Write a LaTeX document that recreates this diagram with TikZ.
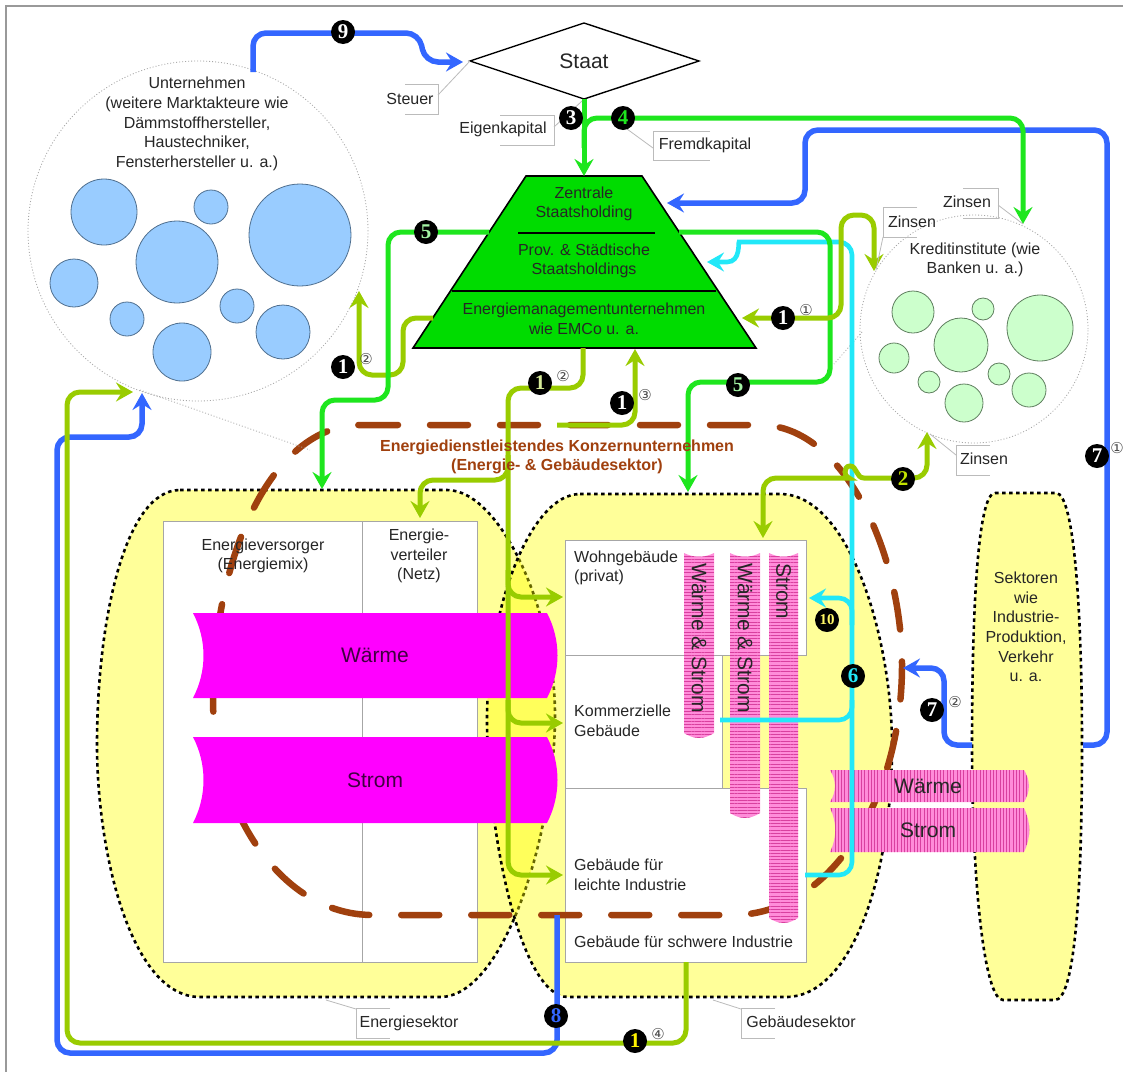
\documentclass[tikz,border=0pt]{standalone}
\usepackage{fontspec}
\setmainfont{Liberation Sans}
\newfontfamily\badgeserif{Liberation Serif}
\newfontfamily\circfont{DejaVu Sans}
\usetikzlibrary{arrows.meta,patterns.meta}

\definecolor{lnblue}{HTML}{3366FF}
\definecolor{lngreen}{HTML}{1EE61E}
\definecolor{lnlime}{HTML}{99CC00}
\definecolor{lncyan}{HTML}{22E8F8}
\definecolor{pyrgreen}{HTML}{00DC00}
\definecolor{konzern}{HTML}{A0400E}
\definecolor{secyellow}{HTML}{FFFF00}
\definecolor{firmfill}{HTML}{99CCFF}
\definecolor{firmline}{HTML}{4F6F8F}
\definecolor{bankfill}{HTML}{CCFFCC}
\definecolor{bankline}{HTML}{5F7F5F}
\definecolor{colpink}{HTML}{FF8CD9}
\definecolor{colstripe}{HTML}{D9409F}
\definecolor{energymag}{HTML}{FF00FF}
\definecolor{callgray}{HTML}{BBBBBB}
\definecolor{magtext}{HTML}{400040}

\begin{document}
\begin{tikzpicture}[x=1pt,y=-1pt,
  txt/.style={font=\fontsize{16}{19.6}\selectfont, inner sep=0pt, align=center, text=black!85},
  big/.style={font=\fontsize{21}{24}\selectfont, inner sep=0pt, text=black!85},
  flow/.style={line width=5pt, rounded corners=13pt},
  bl/.style={flow, draw=lnblue, line width=5.5pt},
  gr/.style={flow, draw=lngreen},
  lm/.style={flow, draw=lnlime},
  cy/.style={flow, draw=lncyan, line width=4.6pt},
  tip/.style={-{Stealth[length=17pt,width=19pt,inset=6pt]}},
  bothtips/.style={{Stealth[length=17pt,width=19pt,inset=6pt]}-{Stealth[length=17pt,width=19pt,inset=6pt]}},
  badge/.style={circle, fill=black, minimum size=24pt, inner sep=0pt, font=\badgeserif\bfseries\fontsize{21}{21}\selectfont},
  circnum/.style={font=\circfont\fontsize{15}{15}\selectfont, text=black!70, inner sep=0pt},
  callout/.style={draw=callgray, line width=0.8pt},
  sector/.style={fill=secyellow, fill opacity=0.4, draw=black, line width=2.6pt, dash pattern=on 3.5pt off 3.5pt},
  cloud/.style={draw=gray!70, line width=0.8pt, dash pattern=on 1pt off 2pt},
  firm/.style={fill=firmfill, draw=firmline, line width=0.8pt},
  bank/.style={fill=bankfill, draw=bankline, line width=0.8pt},
  boxw/.style={fill=white, draw=gray!70, line width=0.9pt},
  vcol/.style={preaction={fill=colpink}, pattern={Lines[angle=0,distance=3.3pt,line width=0.8pt]}, pattern color=colstripe},
  hbar/.style={preaction={fill=colpink}, pattern={Lines[angle=90,distance=3.3pt,line width=0.8pt]}, pattern color=colstripe},
]
\useasboundingbox (0,0) rectangle (1123,1071);
\clip (0,0) rectangle (1123,1071);

% page and frame
\fill[white] (0,0) rectangle (1123,1071);
\draw[gray!80, line width=1.3pt] (6,6) rectangle (1140,1090);

% ---------------- sectors ----------------
% Energiesektor
\path[sector] (180,490) -- (447,490) .. controls (500,490) and (555,610) .. (555,715)
  .. controls (555,830) and (505,997) .. (440,997) -- (200,997)
  .. controls (130,997) and (97,850) .. (97,745) .. controls (97,620) and (125,490) .. (180,490) -- cycle;
% Gebäudesektor
\path[sector] (580,494) -- (780,494) .. controls (850,494) and (892,640) .. (892,745)
  .. controls (892,880) and (850,997) .. (786,997) -- (568,997)
  .. controls (520,997) and (487,830) .. (487,720) .. controls (487,610) and (530,494) .. (580,494) -- cycle;
% other sectors
\path[sector] (995,493) -- (1056,493) .. controls (1075,493) and (1082,620) .. (1082,745)
  .. controls (1082,900) and (1074,1000) .. (1055,1000) -- (1003,1000)
  .. controls (984,1000) and (972,880) .. (972,745) .. controls (972,620) and (977,493) .. (995,493) -- cycle;

% ---------------- white boxes ----------------
\draw[boxw] (163,521) rectangle (477,962);
\draw[gray!70, line width=0.9pt] (362,521) -- (362,962);
\draw[boxw] (565,540) rectangle (806,655);
\draw[boxw] (565,655) rectangle (722,788);
\draw[boxw] (565,788) rectangle (806,962);

% ---------------- group boundary ----------------
\draw[konzern, line width=6.5pt, dash pattern=on 38pt off 32pt, line cap=round]
  (360,425) -- (760,425) .. controls (845,425) and (902,555) .. (902,665)
  .. controls (902,800) and (830,915) .. (733,915) -- (373,915)
  .. controls (275,915) and (213,800) .. (213,700) .. controls (213,560) and (270,425) .. (360,425) -- cycle;

% ---------------- energy bars ----------------
\fill[energymag] (193,613) -- (547,613) .. controls (561,640) and (561,671) .. (547,698) -- (193,698) .. controls (207,671) and (207,640) .. (193,613) -- cycle;
\fill[energymag] (193,737) -- (547,737) .. controls (561,764) and (561,796) .. (547,823) -- (193,823) .. controls (207,796) and (207,764) .. (193,737) -- cycle;
\node[big, text=magtext] (waermeL) at (375,655) {Wärme};
\node[big, text=magtext] (stromL) at (375,780) {Strom};

% vertical supply columns
\path[vcol] (684,553) .. controls (694,558) and (704,558) .. (714,553) -- (714,733) .. controls (704,739.5) and (694,739.5) .. (684,733) -- cycle;
\path[vcol] (730,553) .. controls (740,558) and (750,558) .. (760,553) -- (760,813) .. controls (750,819.5) and (740,819.5) .. (730,813) -- cycle;
\path[vcol] (769,553) .. controls (779,558) and (788,558) .. (798,553) -- (798,918) .. controls (788,924.5) and (779,924.5) .. (769,918) -- cycle;
\node[big, rotate=-90, anchor=west] (col1) at (699,563) {Wärme \& Strom};
\node[big, rotate=-90, anchor=west] (col2) at (745,563) {Wärme \& Strom};
\node[big, rotate=-90, anchor=west] (col3) at (783.5,563) {Strom};

% horizontal bars towards the other sectors
\path[hbar] (830,770) -- (1024,770) .. controls (1030.5,780) and (1030.5,792) .. (1024,802) -- (830,802) .. controls (836.5,792) and (836.5,780) .. (830,770) -- cycle;
\path[hbar] (830,808) -- (1024,808) .. controls (1031,822) and (1031,838) .. (1024,852) -- (830,852) .. controls (837,838) and (837,822) .. (830,808) -- cycle;
\node[big] (waermeR) at (928,786) {Wärme};
\node[big] (stromR) at (928,830) {Strom};

% ---------------- market actors ----------------
\draw[cloud] (198,231) circle[radius=170pt];
\draw[cloud] (140,390) -- (310,450);
\foreach \cx/\cy/\r in {104/212/33, 211/207/17, 300/235/51, 177/262/41, 74/283/24, 127/319/17, 237/306/17, 283/332/27, 182/352/29}
  \draw[firm] (\cx,\cy) circle[radius=\r pt];
\node[txt] (firms) at (197,124) {Unternehmen\\(weitere Marktakteure wie\\Dämmstoffhersteller,\\Haustechniker,\\Fensterhersteller u. a.)};

\draw[cloud] (974,329) circle[radius=114pt];
\draw[cloud] (862,332) -- (834,364);
\foreach \cx/\cy/\r in {913/312/21, 983/309/11, 1040/328/33, 961/345/27, 894/358/15, 929/382/11, 999/374/11, 1029/390/17, 964/403/19}
  \draw[bank] (\cx,\cy) circle[radius=\r pt];
\node[txt] (banks) at (975,260) {Kreditinstitute (wie\\Banken u. a.)};

% ---------------- state and holdings ----------------
\draw[fill=white, line width=1.4pt] (470,61) -- (584,23) -- (699,61) -- (584,99) -- cycle;
\node[big] (staat) at (584,61) {Staat};
\coordinate (staatW) at (470,61);
\coordinate (staatS) at (584,99);

\draw[fill=pyrgreen, line width=1.6pt, line join=miter] (526,176) -- (642,176) -- (756,348) -- (413,348) -- cycle;
\draw[line width=1.6pt] (518,233) -- (655,233);
\draw[line width=1.6pt] (452,291) -- (716,291);
\node[txt] (pyrA) at (584,204) {Zentrale\\Staatsholding};
\node[txt] (pyrB) at (584,261) {Prov. \& Städtische\\Staatsholdings};
\node[txt] (pyrC) at (584,319) {Energiemanagementunternehmen\\wie EMCo u. a.};
\coordinate (pyrTop) at (584,176);

% ---------------- flows ----------------
% 9: tax
\coordinate (firmsTop) at (253,72);
\draw[bl,tip] (firmsTop) -- (253,33) -- (419,33) -- (425,62) -- (463,62);
% 7(1): other sectors to the holding
\coordinate (sekR) at (1083,745);
\draw[bl,tip] (sekR) -- (1107,745) -- (1107,130) -- (805,130) -- (805,203) -- (667,203);
% 7(2)
\coordinate (sekL) at (972,745);
\draw[bl,tip] (sekL) -- (944,745) -- (944,668) -- (903,668);
% 8
\coordinate (konzBot) at (557,915);
\draw[bl,tip] (konzBot) -- (557,1053) -- (57,1053) -- (57,437) -- (142,437) -- (142,393);

% 3 equity
\draw[gr,tip] (staatS) -- (pyrTop);
% 4 debt
\draw[gr,tip] (584,148) -- (584,118) -- (1023,118) -- (1023,224);

% 1(4)
\coordinate (heavyBot) at (686,962);
\draw[lm,tip] (heavyBot) -- (686,1043) -- (67,1043) -- (67,392) -- (133,392);
% 1(2) to the firms
\draw[lm,tip] (433,318) -- (403,318) -- (403,375) -- (359,375) -- (359,291);
% 5 left
\draw[gr,tip] (489,232) -- (388,232) -- (388,400) -- (322,400) -- (322,489);
% 1(2) to buildings
\draw[lm,tip] (583,348) -- (583,388) -- (508,388) -- (508,875) -- (563,875);
\draw[lm,tip] (508,455) -- (508,480) -- (420,480) -- (420,518);
\draw[lm,tip] (508,570) -- (508,597) -- (563,597);
\draw[lm,tip] (508,700) -- (508,723) -- (563,723);
% 1(3)
\draw[lm,tip] (557,425) -- (635,425) -- (635,349);

% 6 / 10 cyan
\draw[cy,tip] (805,875) -- (852,875) -- (852,242) -- (752,242) [sharp corners] .. controls (738,242) and (741,262) .. (727,262) -- (707,262);
\draw[cy] (852,700) -- (852,720) -- (720,720);
\draw[cy,tip] (852,625) -- (852,598) -- (809,598);

% 5 right
\draw[gr,tip] (679,232) -- (830,232) -- (830,382) -- (688,382) -- (688,492);
% 1(1)
\draw[lm,bothtips] (742,318) -- (841,318) -- (841,215) -- (874,215) -- (874,271);
% 2
\draw[lm,bothtips] (763,538) -- (763,478) -- (836,478) [sharp corners] .. controls (844,478) and (843,466) .. (850,466) .. controls (857,466) and (856,478) .. (864,478) [rounded corners=13pt] -- (927,478) -- (927,432);

% ---------------- group label ----------------
\node[txt, font=\bfseries\fontsize{16}{19.6}\selectfont, text=konzern] (konz) at (557,457) {Energiedienstleistendes Konzernunternehmen\\(Energie- \& Gebäudesektor)};

% ---------------- box texts ----------------
\node[txt] (versorger) at (263,556) {Energieversorger\\(Energiemix)};
\node[txt] (verteiler) at (419,556) {Energie-\\verteiler\\(Netz)};
\node[txt, anchor=west, align=left] (wohn) at (574,568) {Wohngebäude\\(privat)};
\node[txt, anchor=west, align=left] (komm) at (574,721) {Kommerzielle\\Gebäude};
\node[txt, anchor=west, align=left] (leicht) at (574,875) {Gebäude für\\leichte Industrie};
\node[txt, anchor=west, align=left] (schwer) at (574,942) {Gebäude für schwere Industrie};
\node[txt] (sektoren) at (1026,627) {Sektoren\\wie\\Industrie-\\Produktion,\\Verkehr\\u. a.};

% ---------------- callout labels ----------------
\draw[callout] (405,84) -- (438,84) -- (438,114) -- (405,114);
\draw[callout] (438,95) -- (staatW);
\node[txt] (steuer) at (410,99) {Steuer};
\draw[callout] (500,115) -- (554,115) -- (554,145) -- (500,145);
\draw[callout] (554,127) -- (582,101);
\node[txt] (eigen) at (503,129) {Eigenkapital};
\draw[callout] (710,131) -- (653,131) -- (653,160) -- (710,160);
\draw[callout] (653,148) -- (627,129);
\node[txt] (fremd) at (705,145) {Fremdkapital};
\draw[callout] (963,188) -- (998,188) -- (998,218) -- (963,218);
\draw[callout] (998,205) -- (1023,224);
\node[txt] (zinsA) at (967,202) {Zinsen};
\draw[callout] (917,207) -- (883,207) -- (883,237) -- (917,237);
\draw[callout] (883,237) -- (876,270);
\node[txt] (zinsB) at (912,222) {Zinsen};
\draw[callout] (990,445) -- (956,445) -- (956,475) -- (990,475);
\draw[callout] (956,455) -- (930,434);
\node[txt] (zinsC) at (984,459) {Zinsen};
\draw[callout] (390,1008) -- (356,1008) -- (356,1038) -- (390,1038);
\draw[callout] (356,1009) -- (326,1000);
\node[txt] (esek) at (409,1023) {Energiesektor};
\draw[callout] (775,1008) -- (741,1008) -- (741,1038) -- (775,1038);
\draw[callout] (741,1009) -- (713,1000);
\node[txt] (gsek) at (801,1022) {Gebäudesektor};

% ---------------- badges ----------------
\node[badge, text=white] (n9) at (343,32) {9};
\node[badge, text=white] (n3) at (571,118) {3};
\node[badge, text=lngreen] (n4) at (623,118) {4};
\node[badge, text=lngreen!40!white] (n5a) at (426,232) {5};
\node[badge, text=lngreen!40!white] (n5b) at (738,385) {5};
\node[badge, text=white] (n1a) at (783,318) {1};
\node[circnum] (c1a) at (806,310) {①};
\node[badge, text=white] (n1b) at (343,367) {1};
\node[circnum] (c1b) at (366,359) {②};
\node[badge, text=lnlime!40!white] (n1c) at (540,383) {1};
\node[circnum] (c1c) at (563,376) {②};
\node[badge, text=white] (n1d) at (622,403) {1};
\node[circnum] (c1d) at (645,395) {③};
\node[badge, text=lnlime!60!yellow] (n2) at (903,479) {2};
\node[badge, text=lncyan] (n6) at (853,676) {6};
\node[badge, text=yellow!60!white, font=\badgeserif\bfseries\fontsize{15}{15}\selectfont] (n10) at (827,620) {10};
\node[badge, text=white] (n7a) at (1097,456) {7};
\node[circnum] (c7a) at (1117,448) {①};
\node[badge, text=white] (n7b) at (932,710) {7};
\node[circnum] (c7b) at (955,702) {②};
\node[badge, text=lnblue] (n8) at (556,1016) {8};
\node[badge, text=yellow] (n1e) at (635,1041) {1};
\node[circnum] (c1e) at (658,1034) {④};
\end{tikzpicture}
\end{document}
